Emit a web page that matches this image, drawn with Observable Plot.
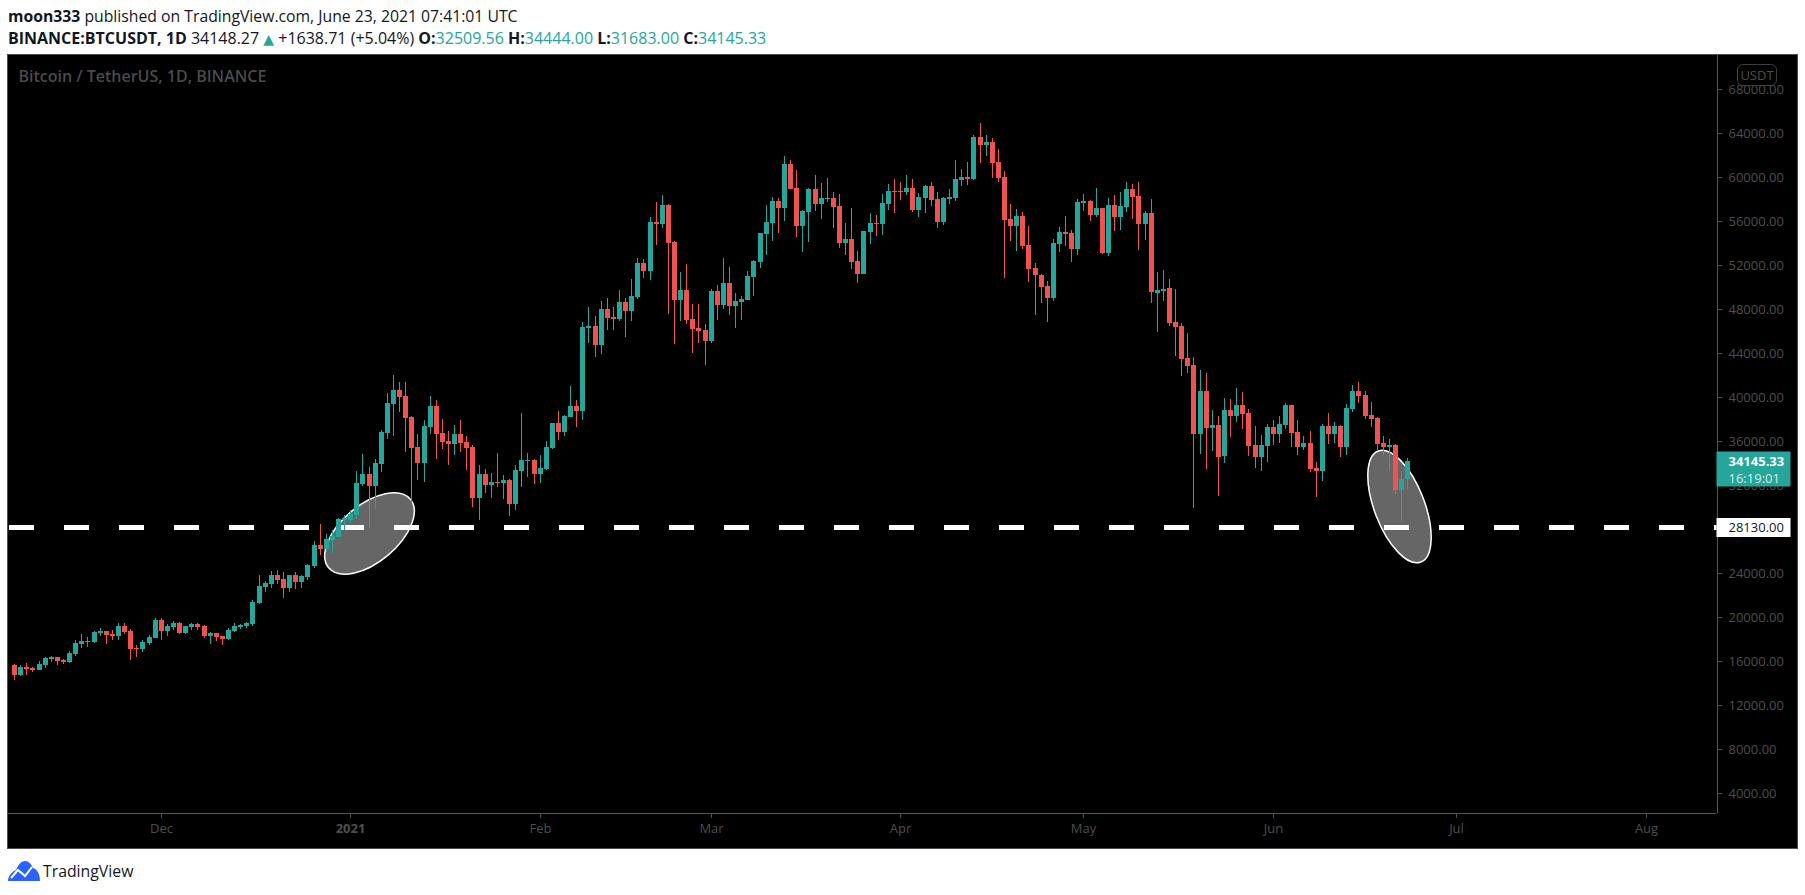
<!DOCTYPE html>
<html>
<head>
<meta charset="utf-8">
<script src="https://cdn.jsdelivr.net/npm/d3@7"></script>
<script src="https://cdn.jsdelivr.net/npm/@observablehq/plot@0.6"></script>
<style>
html,body{margin:0;padding:0;background:#fff;width:1805px;height:895px;overflow:hidden;font-family:"Open Sans",sans-serif;color:#131722}
.hdr{position:absolute;left:8px;white-space:nowrap;font-size:16px;line-height:20px}
.hdr b{font-weight:700}
.g{color:#26a69a}
.tri{font-family:"DejaVu Sans",sans-serif;font-size:14px}
#frame{position:absolute;left:7px;top:54px;width:1789px;height:793px;border:1px solid #4e4e4e;background:#000}
#chart svg{display:block}
#badge{position:absolute;left:1737px;top:64px;width:38px;height:20px;border:1px solid #3f3f3f;border-radius:6px;background:#000;color:#4e4e4e;font-size:13px;line-height:20px;text-align:center}
#brand{position:absolute;left:8px;top:861px;height:20px;display:flex;align-items:center;gap:3px;font-size:15.8px;color:#131722}
</style>
</head>
<body>
<div class="hdr" style="top:6px;font-size:15.75px"><b>moon333</b> published on TradingView.com, June 23, 2021 07:41:01 UTC</div>
<div class="hdr" style="top:28px"><b>BINANCE:BTCUSDT, 1D</b> 34148.27 <span class="g tri">▲</span> +1638.71 (+5.04%) <b>O:</b><span class="g">32509.56</span> <b>H:</b><span class="g">34444.00</span> <b>L:</b><span class="g">31683.00</span> <b>C:</b><span class="g">34145.33</span></div>
<div id="frame"><div id="chart"></div></div>
<div id="badge">USDT</div>
<div id="brand"><svg width="32" height="20" viewBox="0 0 32 20"><path d="M0 20 C0 15 4 11 8 9 C10 4 13 0 17 0 C21 0 23 3 25 7 C29 8 32 13 32 20 Z" fill="#2962ff"/><path d="M3 17 L10 9 L17 15 L24 6" fill="none" stroke="#fff" stroke-width="2"/></svg><span>TradingView</span></div>
<script>
const firstDay = "2020-11-07";
const opens = [15630,14760,15480,15390,15210,15660,16210,16390,16120,15940,
16660,17570,17750,17750,18570,18750,18480,18300,19210,18750,
17210,17120,17660,18120,19750,18750,19120,19480,18570,19120,
19390,19210,18300,18570,18300,18030,18750,19120,19210,19390,
21290,22750,23020,23840,23470,22660,23840,23200,23660,24650,
26560,26200,27020,27290,28830,28830,29280,32100,33010,31920,
33920,36730,39360,40640,40090,38180,35460,34010,37280,39180,
36730,36000,35730,36640,35910,35460,30830,33010,32010,32280,
32190,32460,30280,33280,34190,34280,33010,33460,35370,37640,
36820,38180,39180,38730,46260,46450,44720,47990,47260,47080,
48630,47810,49080,52170,51440,55890,55710,57430,54070,48810,
49720,47080,46260,46080,45080,49620,48350,50350,48260,48630,
48810,50900,52260,54800,55800,57800,57160,61160,58980,55530,
56800,58890,57520,57980,58070,57340,53980,54350,52350,51170,
54980,55800,55710,57520,58700,58700,58610,58980,56980,58070,
59160,57980,55890,57980,58070,59700,59980,59790,63610,62880,
63150,61340,59980,56160,55530,56430,53800,51710,51080,50080,
48990,53890,54980,54890,53440,57620,57800,56530,57160,53070,
57430,56340,57250,58890,58250,55710,56710,49440,49620,49900,
46810,46450,43540,42900,36640,40540,37180,37460,34640,38820,
38270,39270,38550,35640,34550,35550,37280,36640,37460,39270,
36820,35460,35820,33550,33280,37370,36640,37370,35460,38910,
40540,40180,38360,38090,35820,35460,35640,31550,32509.56];
const highs = [15760,15630,15850,15480,16030,16390,16480,16390,16210,16940,
17930,18480,18210,18750,19020,18750,18840,19480,19480,18930,
17480,17930,18390,19930,19930,19390,19660,19570,19210,19480,
19480,19300,18660,18570,18300,19020,19480,19390,19570,21570,
23840,23290,24200,24290,24110,23840,24110,23840,24840,26930,
28470,27560,27920,29010,29290,29740,33280,34820,33640,34370,
37000,40360,42000,41360,41360,38270,36640,37910,40090,39730,
38000,36910,37460,37910,36460,35640,33830,33460,33100,34920,
32920,32550,33830,38550,34920,34370,34730,36000,37640,38730,
38370,41000,39730,46810,48170,47350,48720,48990,48170,49720,
48990,50710,52620,52530,56340,57710,58340,57520,54160,51350,
52080,48440,48440,46630,49810,50170,52620,51800,49440,49170,
51440,52440,54890,57430,58160,58070,61840,61520,60610,56980,
58980,60160,59430,59890,58610,58430,55800,57160,53260,55070,
56710,56530,58430,59340,59790,59520,60160,59790,58520,59250,
59520,58610,58160,58890,61520,60700,61340,63790,64880,63790,
63520,62520,60520,57520,57070,56800,55530,52170,51170,50530,
54350,55440,56430,55160,57980,58430,57890,58980,57160,58070,
58340,58610,59520,59340,59520,56890,57980,51350,51530,50710,
49810,46720,45810,43630,42450,42180,38820,38270,39910,39820,
40820,40450,38910,37370,36550,37550,37910,38270,39450,39270,
37910,36460,36910,34100,37550,38550,37730,37460,39360,41090,
41360,40540,39550,38180,36460,36190,35730,33280,34444];
const lows = [14330,14700,14760,15060,15210,15390,15940,15660,15760,15850,
16480,17210,17300,17660,18300,17570,17930,17930,18480,16120,
16390,16840,17480,18120,17930,18300,18840,18480,18480,18840,
18840,18120,17570,17840,17480,17930,18660,18930,19020,19210,
21200,22290,22660,23020,21750,22290,22570,22660,23380,24470,
25650,25930,25840,27290,27920,28560,28920,31920,28100,29830,
33190,36190,36460,38640,35000,30340,32460,32280,36640,34370,
35280,33830,34730,35000,33370,30010,28830,31280,30830,31830,
30740,29190,29740,31830,32740,32100,32190,33370,35280,36100,
36460,38180,37280,37910,44900,43630,43900,46080,46080,46900,
45450,46900,48900,50800,50620,53800,55350,47540,44810,46900,
46630,43990,44900,42900,44900,46990,47990,47440,46260,46990,
48810,49170,51710,52890,54160,54890,55980,58890,54530,53170,
54070,56890,56160,57710,55350,53530,52890,51620,50350,51170,
53890,54620,54710,56980,56710,57890,58340,56800,56340,56710,
57340,55340,55620,57520,57800,59160,59250,59700,61250,61880,
59890,59520,50800,54160,53260,53440,50440,47440,48530,46810,
48720,53170,53710,52260,52890,56890,55980,56340,52980,52800,
55070,55160,56800,56160,53350,54260,48530,45900,48720,46450,
43720,41910,42180,29920,34820,33460,35100,31010,34010,36370,
37730,37090,34640,33550,33280,34100,35640,35820,37090,35460,
34730,35190,33190,30920,32370,35730,35820,34550,34730,38640,
39450,38000,37280,35100,34730,33280,31190,28740,31683];
const closes = [14760,15480,15300,15210,15760,16300,16390,16030,15940,16750,
17660,17840,17840,18660,18750,18390,18300,19210,18660,17120,
17120,17750,18210,19750,18750,19210,19480,18570,19210,19390,
19120,18300,18570,18210,18030,18840,19210,19300,19480,21390,
22840,23110,23840,23380,22660,23840,23200,23750,24750,26560,
26200,27110,27380,28920,29010,29380,32190,33010,31920,34010,
36820,39460,40640,40000,38090,35370,34010,37370,39180,36640,
35910,35730,36640,35820,35370,30830,33010,32010,32280,32190,
32460,30280,33370,34280,34280,33010,33550,35460,37640,36820,
38280,39180,38730,46360,46450,44720,47990,47170,47080,48630,
47810,49170,52170,51440,55890,55710,57430,53980,48810,49720,
46990,46170,45990,45080,49620,48350,50350,48260,48720,48900,
50990,52350,54890,55890,57800,57160,61160,58890,55530,56890,
58890,57520,58070,58070,57250,53980,54350,52260,51170,55070,
55800,55710,57620,58700,58610,58610,58980,56980,58160,59160,
57890,55890,58070,58160,59790,59980,59790,63610,62880,63150,
61250,59890,56070,55530,56430,53710,51620,51080,49990,48990,
53980,54980,54800,53440,57700,57800,56530,57160,53070,57430,
56340,57340,58890,58160,55710,56710,49530,49720,49810,46720,
46360,43450,42810,36640,40540,37180,37460,34550,38820,38270,
39270,38450,35550,34550,35640,37280,36640,37550,39270,36730,
35460,35820,33460,33280,37370,36640,37370,35460,39000,40540,
40090,38270,38000,35730,35460,35640,31550,32550,34145.33];

const priceTicks = [4000,8000,12000,16000,20000,24000,28000,32000,36000,40000,44000,48000,52000,56000,60000,64000,68000];
const monthTicks = ["2020-12-01","2021-02-01","2021-03-01","2021-04-01","2021-05-01","2021-06-01","2021-07-01","2021-08-01"].map(d=>new Date(d));
const yearTicks = ["2021-01-01"].map(d=>new Date(d));
const levelPrice = 28130;
const lastPrice = 34145.33;
const countdown = "16:19:01";
const xDomain = [new Date("2020-11-06T00:00Z"), new Date("2021-08-12T14:24Z")];
const yDomain = [2227, 71054];
const ellipseA = [{date:new Date("2021-01-04T00:00Z"), price:27620}];
const ellipseB = [{date:new Date("2021-06-21T14:00Z"), price:30080}];

const GREEN="#26a69a", RED="#ef5350", DIM="#4e4e4e", LINE="#555555";
const candles = opens.map((o,i)=>({date:d3.utcDay.offset(new Date(firstDay),i),open:o,high:highs[i],low:lows[i],close:closes[i]}));
const tone = d=>d.close>=d.open?GREEN:RED;

// an ellipse symbol: r is the semi-minor axis, the major one is aspect times it
const ellipseSymbol = aspect => ({draw(ctx,size){
  const b=Math.sqrt(size/Math.PI), a=b*aspect, k=0.5523;
  ctx.moveTo(a,0);
  ctx.bezierCurveTo(a,k*b,k*a,b,0,b);
  ctx.bezierCurveTo(-k*a,b,-a,k*b,-a,0);
  ctx.bezierCurveTo(-a,-k*b,-k*a,-b,0,-b);
  ctx.bezierCurveTo(k*a,-b,a,-k*b,a,0);
  ctx.closePath();
}});

const chart = Plot.plot({
  width:1789, height:793,
  marginTop:0, marginLeft:0, marginRight:80.5, marginBottom:35,
  style:{background:"#000",fontFamily:"'Open Sans',sans-serif",fontSize:"13px"},
  x:{type:"utc",domain:xDomain,round:true,axis:null},
  y:{domain:yDomain,round:true,axis:null},
  marks:[
    Plot.dot(ellipseA,{x:"date",y:"price",r:28.5,rotate:-40,symbol:ellipseSymbol(53.3/28.5),fill:"#666666",stroke:"#ffffff",strokeWidth:1.5}),
    Plot.dot(ellipseB,{x:"date",y:"price",r:25.1,rotate:69,symbol:ellipseSymbol(59.5/25.1),fill:"#666666",stroke:"#ffffff",strokeWidth:1.5}),
    Plot.ruleY([levelPrice],{stroke:"#fff",strokeWidth:5,strokeDasharray:"25 30",insetLeft:1,dy:-1}),
    Plot.ruleX(candles,{x:"date",y1:"low",y2:"high",stroke:tone,strokeWidth:1}),
    Plot.ruleX(candles,{x:"date",y1:"open",y2:"close",stroke:tone,strokeWidth:5}),
    Plot.ruleX([xDomain[1]],{stroke:LINE}),
    Plot.ruleY([yDomain[0]],{stroke:LINE}),
    Plot.axisY({anchor:"right",ticks:priceTicks,tickFormat:d3.format(".2f"),tickSize:5,tickPadding:6.5,color:DIM,label:null}),
    Plot.axisX({anchor:"bottom",ticks:monthTicks,tickFormat:d3.utcFormat("%b"),tickSize:5,tickPadding:5,color:DIM,label:null}),
    Plot.axisX({anchor:"bottom",ticks:yearTicks,tickFormat:d3.utcFormat("%Y"),tickSize:5,tickPadding:5,color:DIM,fontWeight:700,label:null}),
    Plot.ruleY([lastPrice],{stroke:GREEN,strokeWidth:35,dy:7.5,insetLeft:1708.5,insetRight:-74}),
    Plot.ruleY([levelPrice],{stroke:"#fff",strokeWidth:19,dy:-1,insetLeft:1708.5,insetRight:-74}),
    Plot.text([lastPrice],{y:d=>d,text:d=>d3.format(".2f")(d),frameAnchor:"right",textAnchor:"start",dx:11.5,fill:"#fff",fontWeight:700}),
    Plot.text([lastPrice],{y:d=>d,text:()=>countdown,frameAnchor:"right",textAnchor:"start",dx:11.5,dy:17,fill:"#fff",fillOpacity:.8}),
    Plot.text([levelPrice],{y:d=>d,text:d=>d3.format(".2f")(d),frameAnchor:"right",textAnchor:"start",dx:11.5,dy:-1,fill:"#131722"}),
    Plot.text(["Bitcoin / TetherUS, 1D, BINANCE"],{frameAnchor:"top-left",dx:10,dy:15.5,fill:"#4a4a4a",fontWeight:600,fontSize:16})
  ]
});
document.getElementById("chart").appendChild(chart);
</script>
</body>
</html>
